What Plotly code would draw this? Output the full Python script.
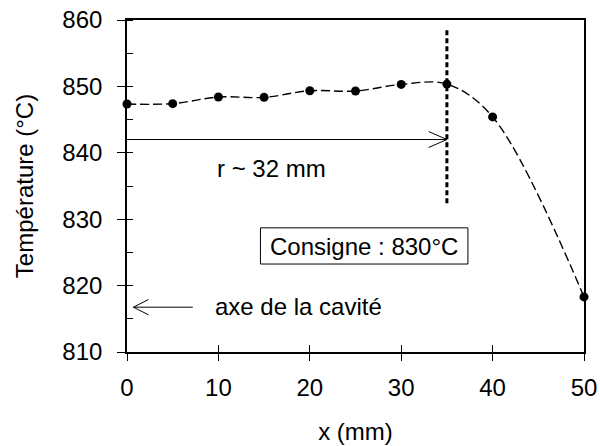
import plotly.graph_objects as go

# Data
x_mm = [0, 5, 10, 15, 20, 25, 30, 35, 40, 50]
temp_c = [847.35, 847.4, 848.4, 848.35, 849.35, 849.3, 850.3, 850.35, 845.4, 818.3]
x_ticks = [0, 10, 20, 30, 40, 50]
y_ticks = [810, 820, 830, 840, 850, 860]

FONT = "Liberation Sans, Arial, sans-serif"
FS = 24

fig = go.Figure()

fig.add_trace(go.Scatter(
    x=x_mm, y=temp_c, mode="lines+markers",
    line=dict(color="black", width=1.4, dash="9px,4px", shape="spline", smoothing=1.0),
    marker=dict(color="black", size=9),
    hoverinfo="skip", showlegend=False, cliponaxis=False,
))
# invisible trace to activate overlay axis (inside tick marks)
fig.add_trace(go.Scatter(
    x=x_mm, y=temp_c, mode="lines", opacity=0, xaxis="x2",
    hoverinfo="skip", showlegend=False,
))

# Annotation elements (arrows, dotted line, box)
r_y = 842.0
fig.add_shape(type="line", x0=0, x1=35, y0=r_y, y1=r_y, line=dict(color="black", width=1))
fig.add_shape(type="path", path=f"M 33.0 {r_y+1.2} L 35 {r_y} L 33.0 {r_y-1.2}",
              line=dict(color="black", width=1))

ax_y = 816.75
fig.add_shape(type="line", x0=0.7, x1=7.2, y0=ax_y, y1=ax_y, line=dict(color="black", width=1))
fig.add_shape(type="path", path=f"M 2.35 {ax_y+1.15} L 0.7 {ax_y} L 2.35 {ax_y-1.15}",
              line=dict(color="black", width=1))

fig.add_shape(type="line", x0=35, x1=35, y0=832.4, y1=858.8,
              line=dict(color="black", width=3, dash="5px,3px"))

fig.add_shape(type="rect", x0=14.6, x1=37.3, y0=823.25, y1=828.7,
              line=dict(color="black", width=1), fillcolor="white", layer="above")

fig.add_annotation(x=14.6 + (37.3 - 14.6) / 2, y=825.95, text="Consigne : 830°C", showarrow=False,
                   font=dict(family=FONT, size=FS, color="black"))
fig.add_annotation(x=9.6, y=837.7, text="r ~ 32 mm", showarrow=False, xanchor="left",
                   font=dict(family=FONT, size=FS, color="black"))
fig.add_annotation(x=9.4, y=816.9, text="axe de la cavité", showarrow=False, xanchor="left",
                   font=dict(family=FONT, size=FS, color="black"))

fig.update_layout(
    width=601, height=446,
    margin=dict(l=126.5, r=17, t=20, b=94, autoexpand=False),
    plot_bgcolor="white", paper_bgcolor="white",
    font=dict(family=FONT, size=FS, color="black"),
    xaxis=dict(
        range=[0, 50], tickvals=x_ticks, ticks="outside", ticklen=7, tickwidth=1.3,
        tickcolor="black", showline=True, linecolor="black", linewidth=1.6, mirror=True,
        showgrid=False, zeroline=False, ticklabelstandoff=6, automargin=False,
        ticklabeloverflow="allow",
        title=dict(text="x (mm)", font=dict(size=FS), standoff=24),
    ),
    xaxis2=dict(
        range=[0, 50], tickvals=x_ticks, ticks="inside", ticklen=7, tickwidth=1.3,
        tickcolor="black", overlaying="x", anchor="y", side="bottom", automargin=False,
        showticklabels=False, showgrid=False, zeroline=False, showline=False,
    ),
    yaxis=dict(
        range=[810, 860], tickvals=y_ticks, ticks="outside", ticklen=8, tickwidth=1.3,
        tickcolor="black", showline=True, linecolor="black", linewidth=1.6, mirror=True,
        showgrid=False, zeroline=False, ticklabelstandoff=10, automargin=False,
        minor=dict(dtick=5, ticks="inside", ticklen=6, tickwidth=1.3, tickcolor="black", showgrid=False),
        title=dict(text="Température (°C)", font=dict(size=FS), standoff=22),
    ),
)

fig.write_html("out.html", config={"displayModeBar": False},
               post_script="document.body.style.margin='0';")
